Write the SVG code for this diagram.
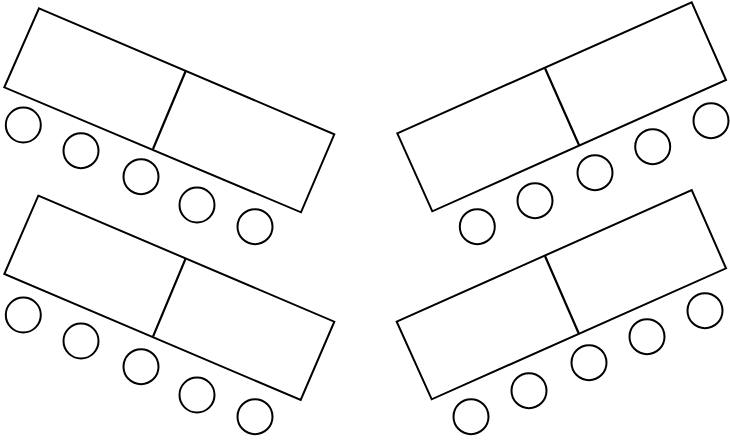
<svg xmlns="http://www.w3.org/2000/svg" width="730" height="444" viewBox="0 0 730 444">
<style>
.t{fill:#fff;stroke:#000;stroke-width:2;stroke-linejoin:miter}
.d{stroke:#000;stroke-width:2.2;fill:none}
.c{fill:#fff;stroke:#000;stroke-width:2}
</style>
<rect width="730" height="444" fill="#fff"/>
<g id="table-top-left">
<polygon class="t" points="39,8.3 334.3,134.3 301,212.3 4.3,87.3"/>
<line class="d" x1="185.7" y1="71" x2="153" y2="149"/>
<circle class="c" cx="23.3" cy="125" r="17.5"/>
<circle class="c" cx="81" cy="150.7" r="17.5"/>
<circle class="c" cx="141" cy="176.7" r="17.5"/>
<circle class="c" cx="197" cy="205" r="17.5"/>
<circle class="c" cx="255" cy="226.7" r="17.5"/>
</g>
<g id="table-bottom-left">
<polygon class="t" points="38.3,195.7 334.3,321.7 300.7,400 4.3,274"/>
<line class="d" x1="185.7" y1="258.3" x2="153" y2="336.7"/>
<circle class="c" cx="23.3" cy="315" r="17.5"/>
<circle class="c" cx="81" cy="341" r="17.5"/>
<circle class="c" cx="141" cy="366.7" r="17.5"/>
<circle class="c" cx="197" cy="395" r="17.5"/>
<circle class="c" cx="255" cy="416.7" r="17.5"/>
</g>
<g id="table-top-right">
<polygon class="t" points="397.3,133.3 691.7,2.3 726,80 432.3,211.3"/>
<line class="d" x1="545" y1="68.3" x2="579.3" y2="145.7"/>
<circle class="c" cx="477.3" cy="226.7" r="17.5"/>
<circle class="c" cx="535" cy="200.7" r="17.5"/>
<circle class="c" cx="595" cy="172.7" r="17.5"/>
<circle class="c" cx="652.7" cy="146.7" r="17.5"/>
<circle class="c" cx="711" cy="120.7" r="17.5"/>
</g>
<g id="table-bottom-right">
<polygon class="t" points="396.7,321.7 691.7,190 726,268.3 431.7,399.3"/>
<line class="d" x1="545" y1="256" x2="579" y2="334"/>
<circle class="c" cx="471" cy="416.7" r="17.5"/>
<circle class="c" cx="529" cy="390.7" r="17.5"/>
<circle class="c" cx="589" cy="362.7" r="17.5"/>
<circle class="c" cx="647" cy="336.7" r="17.5"/>
<circle class="c" cx="705" cy="310.7" r="17.5"/>
</g>
</svg>
